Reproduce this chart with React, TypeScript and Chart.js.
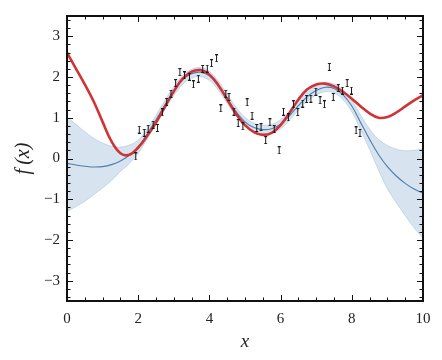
import React, { useEffect, useRef } from 'react';
import { Chart, registerables } from 'chart.js';

Chart.register(...registerables);

// ---- data ----
const curveX = [0, 0.25, 0.5, 0.75, 1, 1.25, 1.5, 1.75, 2, 2.25, 2.5, 2.75, 3, 3.25, 3.5, 3.75, 4, 4.25, 4.5, 4.75, 5, 5.25, 5.5, 5.75, 6, 6.25, 6.5, 6.75, 7, 7.25, 7.5, 7.75, 8, 8.25, 8.5, 8.75, 9, 9.25, 9.5, 9.75, 10];

const trueY = [2.6, 2.21, 1.82, 1.4, 0.9, 0.42, 0.13, 0.09, 0.27, 0.55, 0.88, 1.27, 1.65, 1.96, 2.13, 2.17, 2.06, 1.8, 1.45, 1.1, 0.82, 0.65, 0.58, 0.63, 0.82, 1.12, 1.45, 1.7, 1.82, 1.84, 1.77, 1.64, 1.47, 1.28, 1.11, 1.0, 1.02, 1.13, 1.28, 1.43, 1.55];

const meanY = [-0.12, -0.16, -0.19, -0.21, -0.2, -0.15, -0.06, 0.08, 0.28, 0.6, 0.95, 1.32, 1.66, 1.93, 2.08, 2.12, 2.03, 1.79, 1.47, 1.15, 0.9, 0.76, 0.71, 0.73, 0.84, 1.05, 1.3, 1.52, 1.67, 1.75, 1.72, 1.57, 1.29, 0.88, 0.47, 0.1, -0.2, -0.43, -0.61, -0.75, -0.85];

const upperY = [1.02, 0.84, 0.66, 0.5, 0.38, 0.3, 0.28, 0.33, 0.45, 0.72, 1.06, 1.43, 1.77, 2.04, 2.19, 2.23, 2.14, 1.9, 1.58, 1.26, 1.01, 0.87, 0.82, 0.84, 0.95, 1.16, 1.41, 1.63, 1.78, 1.86, 1.83, 1.69, 1.43, 1.06, 0.72, 0.47, 0.32, 0.23, 0.19, 0.2, 0.24];

const lowerY = [-1.3, -1.18, -1.05, -0.89, -0.72, -0.54, -0.32, -0.12, 0.13, 0.48, 0.84, 1.21, 1.55, 1.82, 1.97, 2.01, 1.92, 1.68, 1.36, 1.04, 0.79, 0.65, 0.6, 0.62, 0.73, 0.94, 1.19, 1.41, 1.56, 1.64, 1.61, 1.45, 1.15, 0.7, 0.22, -0.28, -0.74, -1.08, -1.4, -1.7, -1.95];

const obsX = [1.93, 2.03, 2.17, 2.28, 2.42, 2.54, 2.68, 2.8, 2.92, 3.05, 3.17, 3.3, 3.44, 3.55, 3.69, 3.81, 3.94, 4.06, 4.2, 4.32, 4.46, 4.55, 4.69, 4.81, 4.94, 5.06, 5.2, 5.33, 5.45, 5.58, 5.7, 5.82, 5.96, 6.08, 6.22, 6.36, 6.48, 6.62, 6.73, 6.85, 6.99, 7.11, 7.23, 7.37, 7.48, 7.62, 7.74, 7.87, 7.99, 8.12, 8.23];
const obsY = [0.05, 0.71, 0.63, 0.73, 0.83, 0.75, 1.13, 1.39, 1.59, 1.85, 2.12, 2.04, 2.01, 1.82, 1.96, 2.2, 2.21, 2.34, 2.46, 1.23, 1.59, 1.51, 1.15, 0.87, 0.79, 1.38, 1.05, 0.75, 0.77, 0.45, 0.89, 0.72, 0.2, 1.15, 1.01, 1.33, 1.14, 1.35, 1.46, 1.47, 1.64, 1.43, 1.33, 2.25, 1.51, 1.73, 1.67, 1.85, 1.67, 0.69, 0.63];

const xTickValues = [0, 2, 4, 6, 8, 10];
const yTickValues = [-3, -2, -1, 0, 1, 2, 3];
const xRange = [0, 10];
const yRange = [-3.5, 3.5];
const xTitle = 'x';
const yTitle = 'f\u2009(x)';

const FONT = "'Liberation Serif', 'DejaVu Serif', serif";

function pts(xs: number[], ys: number[]) {
  return xs.map((x, i) => ({ x, y: ys[i] }));
}

function makeErrMarker(): HTMLCanvasElement {
  const c = document.createElement('canvas');
  c.width = 5;
  c.height = 8;
  const g = c.getContext('2d')!;
  g.fillStyle = '#1a1a1a';
  g.fillRect(2, 0, 1, 8);
  g.fillRect(1, 0, 3, 1);
  g.fillRect(1, 7, 3, 1);
  return c;
}

const framePlugin = {
  id: 'frame',
  afterDraw(chart: any) {
    const { ctx, chartArea: a, scales } = chart;
    const xs = scales.x;
    const ys = scales.y;
    ctx.save();
    ctx.strokeStyle = '#111';
    ctx.lineWidth = 1;
    ctx.beginPath();
    for (let i = 0; i <= 20; i++) {
      const v = i * 0.5;
      const px = Math.round(xs.getPixelForValue(v)) + 0.5;
      const len = i % 4 === 0 ? 6 : 3.5;
      ctx.moveTo(px, a.bottom);
      ctx.lineTo(px, a.bottom - len);
      ctx.moveTo(px, a.top);
      ctx.lineTo(px, a.top + len);
    }
    for (let i = -17; i <= 17; i++) {
      const v = i * 0.2;
      const py = Math.round(ys.getPixelForValue(v)) + 0.5;
      const len = i % 5 === 0 ? 6 : 3.5;
      ctx.moveTo(a.left, py);
      ctx.lineTo(a.left + len, py);
      ctx.moveTo(a.right, py);
      ctx.lineTo(a.right - len, py);
    }
    ctx.stroke();
    ctx.lineWidth = 2;
    ctx.strokeRect(a.left, a.top, a.right - a.left, a.bottom - a.top);
    ctx.restore();
  },
};

export default function App() {
  const ref = useRef<HTMLCanvasElement>(null);
  useEffect(() => {
    if (!ref.current) return;
    const marker = makeErrMarker();
    const chart = new Chart(ref.current, {
      type: 'line',
      data: {
        datasets: [
          {
            label: 'obs',
            data: pts(obsX, obsY),
            showLine: false,
            pointStyle: marker as any,
            pointRadius: 4,
            order: 0,
          },
          {
            label: 'true',
            data: pts(curveX, trueY),
            borderColor: '#d03336',
            borderWidth: 2.6,
            pointRadius: 0,
            tension: 0.4,
            fill: false,
            order: 1,
          },
          {
            label: 'mean',
            data: pts(curveX, meanY),
            borderColor: '#4a7fb0',
            borderWidth: 1.1,
            pointRadius: 0,
            tension: 0.4,
            fill: false,
            order: 2,
          },
          {
            label: 'upper',
            data: pts(curveX, upperY),
            borderColor: 'rgba(170,196,220,0.6)',
            borderWidth: 1,
            pointRadius: 0,
            tension: 0.4,
            fill: '+1',
            backgroundColor: 'rgba(176,200,222,0.5)',
            order: 3,
          },
          {
            label: 'lower',
            data: pts(curveX, lowerY),
            borderColor: 'rgba(170,196,220,0.6)',
            borderWidth: 1,
            pointRadius: 0,
            tension: 0.4,
            fill: false,
            order: 4,
          },
        ],
      },
      options: {
        animation: false,
        responsive: true,
        maintainAspectRatio: false,
        layout: { padding: { top: 11, right: 19, left: 0, bottom: 0 } },
        plugins: {
          legend: { display: false },
          tooltip: { enabled: false },
        },
        scales: {
          x: {
            type: 'linear',
            min: xRange[0],
            max: xRange[1],
            grid: { display: false, drawTicks: false },
            border: { display: false },
            afterBuildTicks: (s: any) => {
              s.ticks = xTickValues.map((v) => ({ value: v }));
            },
            afterFit: (s: any) => {
              s.height = 59;
            },
            ticks: {
              padding: 9,
              maxRotation: 0,
              autoSkip: false,
              color: '#222',
              font: { family: FONT, size: 15 },
              callback: (v: any) => String(v),
            },
            title: {
              display: true,
              text: xTitle,
              color: '#222',
              font: { family: FONT, size: 19, style: 'italic' },
              padding: { top: 0, bottom: 7 },
            },
          },
          y: {
            type: 'linear',
            min: yRange[0],
            max: yRange[1],
            grid: { display: false, drawTicks: false },
            border: { display: false },
            afterBuildTicks: (s: any) => {
              s.ticks = yTickValues.map((v) => ({ value: v }));
            },
            afterFit: (s: any) => {
              s.width = 67;
            },
            ticks: {
              padding: 7,
              autoSkip: false,
              color: '#222',
              font: { family: FONT, size: 15 },
              callback: (v: any) => (Number(v) < 0 ? '\u2212' + Math.abs(Number(v)) : String(v)),
            },
            title: {
              display: true,
              text: yTitle,
              color: '#222',
              font: { family: FONT, size: 20, style: 'italic' },
              padding: { top: 12, bottom: 0 },
            },
          },
        },
      },
      plugins: [framePlugin],
    });
    return () => chart.destroy();
  }, []);
  return (
    <div style={{ position: 'absolute', left: 0, top: 0, width: 442, height: 360, background: '#fff' }}>
      <canvas ref={ref} />
    </div>
  );
}
